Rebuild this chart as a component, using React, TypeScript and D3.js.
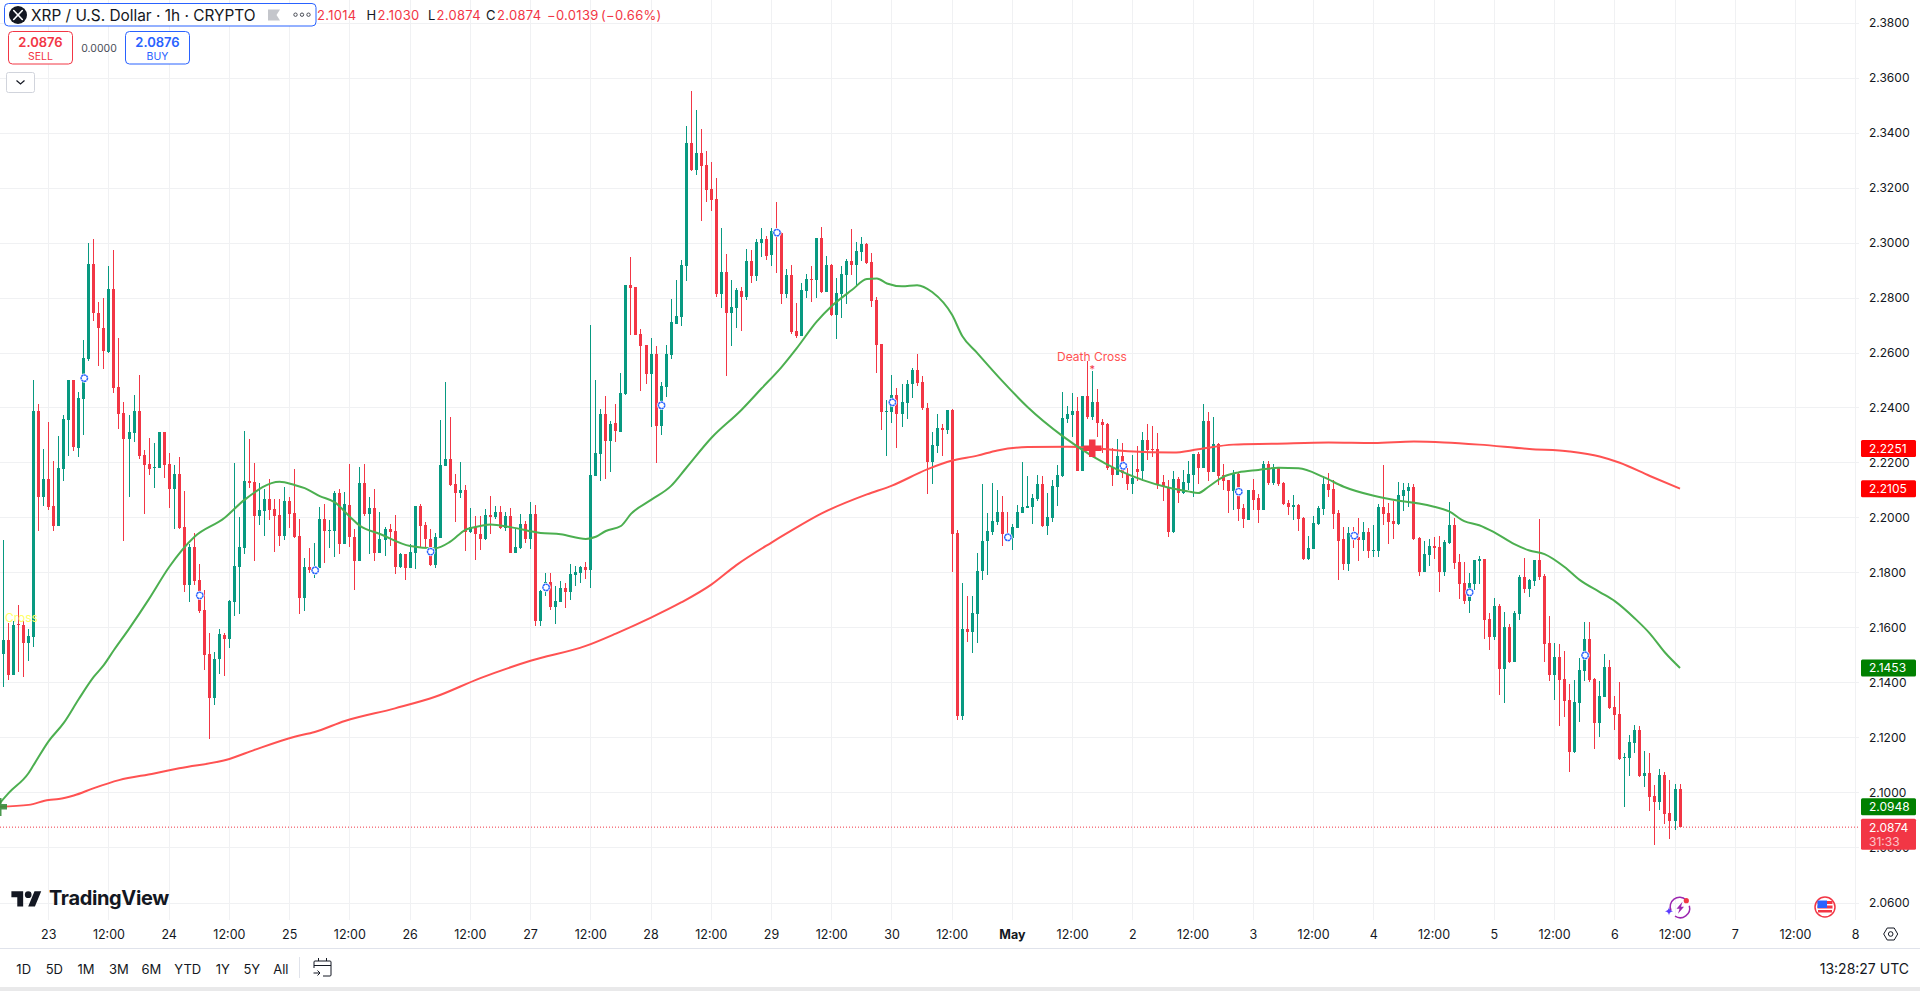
import * as d3 from 'd3';

const WIDTH = 1920;
const HEIGHT = 991;
const FONT = 'Inter, "Noto Sans", sans-serif';

const UP_COLOR = '#089981';
const DOWN_COLOR = '#F23645';
const BLUE = '#2962FF';
const TEXT = '#131722';
const GRID = '#f0f1f3';

// hourly bars, bar 0 is Apr 23 00:00, first visible bar is -9
const FIRST_BAR = -9;

const opens = [
  2.1505,2.1554,2.1427,2.1612,2.1608,2.1544,2.1566,2.2387,2.2076,2.2140,
  2.2042,2.1970,2.2177,2.2355,2.2500,2.2254,2.2431,2.2577,2.2922,2.2745,
  2.2688,2.2603,2.2832,2.2473,2.2379,2.2286,2.2309,2.2387,2.2227,2.2193,
  2.2182,2.2181,2.2311,2.2195,2.2105,2.2158,2.1966,2.1755,2.1894,2.1773,
  2.1664,2.1503,2.1344,2.1485,2.1572,2.1558,2.1694,2.1821,2.1888,2.2133,
  2.2129,2.2006,2.2024,2.2067,2.2031,2.2009,2.1933,2.2060,2.2018,2.1933,
  2.1709,2.1820,2.1810,2.1815,2.1995,2.1952,2.1952,2.2088,2.1905,2.2046,
  2.1928,2.1843,2.2124,2.2013,2.2033,2.1872,2.1918,2.1957,2.1951,2.1820,
  2.1867,2.1817,2.1872,2.2042,2.1973,2.1922,2.1827,2.1927,2.2189,2.2213,
  2.2122,2.2089,2.2100,2.1949,2.1967,2.1940,2.1921,2.2008,2.2001,2.2019,
  2.1962,2.2005,2.1872,2.1890,2.1975,2.1921,2.2012,2.1624,2.1732,2.1764,
  2.1673,2.1694,2.1743,2.1730,2.1792,2.1798,2.1819,2.1808,2.2150,2.2230,
  2.2378,2.2278,2.2343,2.2311,2.2449,2.2845,2.2838,2.2669,2.2627,2.2522,
  2.2596,2.2332,2.2476,2.2590,2.2705,2.2728,2.2915,2.3361,2.3263,2.3325,
  2.3281,2.3194,2.3158,2.2812,2.2892,2.2743,2.2761,2.2823,2.2801,2.2932,
  2.2878,2.2998,2.3012,2.2954,2.3041,2.3036,2.2812,2.2881,2.2678,2.2659,
  2.2823,2.2867,2.2863,2.3016,2.2819,2.2918,2.2736,2.2812,2.2881,2.2932,
  2.2918,2.2965,2.2994,2.2928,2.2790,2.2630,2.2384,2.2384,2.2447,2.2376,
  2.2417,2.2485,2.2536,2.2492,2.2400,2.2202,2.2261,2.2324,2.2318,2.2390,
  2.1942,2.1278,2.1595,2.1585,2.1650,2.1804,2.1913,2.1949,2.1984,2.2021,
  2.1941,2.1925,2.1962,2.2017,2.2035,2.2039,2.2068,2.2122,2.1970,2.1999,
  2.2111,2.2151,2.2359,2.2373,2.2388,2.2170,2.2442,2.2366,2.2421,2.2348,
  2.2340,2.2184,2.2155,2.2224,2.2159,2.2122,2.2177,2.2170,2.2282,2.2250,
  2.2250,2.2130,2.2111,2.1948,2.2141,2.2090,2.2126,2.2155,2.2231,2.2181,
  2.2351,2.2166,2.2268,2.2155,2.2137,2.2097,2.2159,2.2035,2.1991,2.2100,
  2.2071,2.2028,2.2195,2.2126,2.2181,2.2126,2.2053,2.2039,2.2046,2.1999,
  2.1850,2.1886,2.1977,2.2031,2.2122,2.2104,2.2017,2.1922,2.1831,2.1931,
  2.1928,2.1919,2.1948,2.1879,2.1879,2.2039,2.2017,2.1988,2.1977,2.2079,
  2.2097,2.2111,2.1926,2.1802,2.1864,2.1897,2.1892,2.1802,2.1907,2.1972,
  2.1838,2.1761,2.1697,2.1758,2.1841,2.1848,2.1630,2.1565,2.1678,2.1448,
  2.1601,2.1474,2.1648,2.1783,2.1739,2.1768,2.1845,2.1787,2.1543,2.1427,
  2.1492,2.1412,2.1336,2.1147,2.1325,2.1442,2.1558,2.1412,2.1252,2.1347,
  2.1456,2.1310,2.1285,2.1125,2.1125,2.1179,2.1227,2.1059,2.1070,2.0987,
  2.0965,2.1063,2.0925,2.0896,2.1014,
];

const highs = [
  2.1918,2.1617,2.1624,2.1681,2.1624,2.1596,2.2500,2.2413,2.2249,2.2346,
  2.2206,2.2297,2.2373,2.2500,2.2500,2.2458,2.2646,2.3000,2.3013,2.2785,
  2.2800,2.2915,2.2973,2.2652,2.2419,2.2373,2.2446,2.2518,2.2246,2.2290,
  2.2270,2.2311,2.2311,2.2233,2.2190,2.2220,2.2097,2.1905,2.1945,2.1831,
  2.1737,2.1581,2.1512,2.1594,2.1581,2.1700,2.2197,2.2003,2.2315,2.2286,
  2.2197,2.2124,2.2103,2.2139,2.2067,2.2067,2.2112,2.2073,2.2177,2.1995,
  2.1853,2.1888,2.1906,2.2040,2.2049,2.1991,2.2097,2.2103,2.2092,2.2193,
  2.1960,2.2184,2.2193,2.2073,2.2104,2.2019,2.1967,2.1975,2.2009,2.1870,
  2.1867,2.1904,2.2042,2.2049,2.1984,2.1957,2.1943,2.2355,2.2493,2.2364,
  2.2160,2.2202,2.2118,2.2033,2.2006,2.2005,2.2030,2.2078,2.2041,2.2041,
  2.2021,2.2034,2.1960,2.2011,2.1988,2.2055,2.2047,2.1735,2.1799,2.1799,
  2.1750,2.1768,2.1762,2.1830,2.1823,2.1825,2.1838,2.2699,2.2499,2.2394,
  2.2441,2.2350,2.2412,2.2524,2.2845,2.2948,2.2840,2.2684,2.2627,2.2651,
  2.2623,2.2493,2.2627,2.2794,2.2863,2.2936,2.3424,2.3550,2.3481,2.3412,
  2.3332,2.3292,2.3234,2.3052,2.2958,2.2863,2.2834,2.2838,2.2976,2.2972,
  2.3012,2.3052,2.3023,2.3052,2.3147,2.3040,2.2903,2.2918,2.2779,2.2852,
  2.2885,2.2914,2.3016,2.3056,2.2950,2.2921,2.2870,2.2914,2.2939,2.3048,
  2.3001,2.3019,2.2999,2.2961,2.2801,2.2630,2.2429,2.2518,2.2470,2.2485,
  2.2499,2.2542,2.2594,2.2514,2.2415,2.2312,2.2376,2.2339,2.2390,2.2394,
  2.1954,2.1761,2.1716,2.1713,2.1870,2.2122,2.2016,2.2125,2.2100,2.2079,
  2.2021,2.1975,2.2046,2.2202,2.2151,2.2086,2.2155,2.2151,2.2090,2.2137,
  2.2191,2.2457,2.2406,2.2452,2.2437,2.2442,2.2568,2.2533,2.2467,2.2359,
  2.2343,2.2253,2.2286,2.2271,2.2179,2.2228,2.2260,2.2311,2.2340,2.2333,
  2.2308,2.2155,2.2137,2.2170,2.2148,2.2173,2.2206,2.2231,2.2239,2.2413,
  2.2384,2.2366,2.2270,2.2195,2.2137,2.2173,2.2164,2.2050,2.2100,2.2141,
  2.2086,2.2206,2.2206,2.2195,2.2185,2.2130,2.2064,2.2082,2.2050,2.2002,
  2.1933,2.2004,2.2042,2.2151,2.2161,2.2137,2.2028,2.1967,2.1965,2.1967,
  2.2000,2.1982,2.1961,2.1973,2.2050,2.2191,2.2052,2.2061,2.2130,2.2126,
  2.2126,2.2122,2.1930,2.1915,2.1922,2.1930,2.1932,2.1918,2.2056,2.1998,
  2.1869,2.1838,2.1798,2.1845,2.1859,2.1850,2.1651,2.1707,2.1685,2.1656,
  2.1612,2.1659,2.1790,2.1852,2.1777,2.1845,2.1994,2.1794,2.1641,2.1543,
  2.1539,2.1514,2.1396,2.1408,2.1488,2.1619,2.1619,2.1416,2.1405,2.1503,
  2.1481,2.1350,2.1401,2.1143,2.1208,2.1245,2.1241,2.1150,2.1143,2.1027,
  2.1085,2.1074,2.1045,2.1030,2.1030,
];

const lows = [
  2.1384,2.1408,2.1427,2.1439,2.1421,2.1479,2.1530,2.1952,2.2043,2.2027,
  2.1952,2.1970,2.2134,2.2224,2.2243,2.2221,2.2300,2.2570,2.2715,2.2552,
  2.2540,2.2598,2.2452,2.2322,2.1916,2.2076,2.2276,2.2213,2.2013,2.2155,
  2.2109,2.2180,2.2145,2.2036,2.1960,2.1960,2.1730,2.1694,2.1755,2.1654,
  2.1445,2.1195,2.1318,2.1430,2.1423,2.1525,2.1643,2.1649,2.1867,2.2109,
  2.1843,2.1973,2.1933,2.1991,2.1876,2.1897,2.1918,2.1961,2.1926,2.1649,
  2.1660,2.1800,2.1781,2.1815,2.1833,2.1888,2.1858,2.1867,2.1905,2.1894,
  2.1737,2.1843,2.2006,2.1867,2.1843,2.1870,2.1860,2.1897,2.1795,2.1818,
  2.1773,2.1817,2.1813,2.1894,2.1888,2.1824,2.1817,2.1927,2.2189,2.2116,
  2.1985,2.2072,2.1879,2.1943,2.1846,2.1881,2.1918,2.1939,2.1996,2.1960,
  2.1952,2.1870,2.1872,2.1885,2.1908,2.1885,2.1605,2.1605,2.1715,2.1663,
  2.1612,2.1694,2.1670,2.1699,2.1750,2.1761,2.1778,2.1744,2.2150,2.2132,
  2.2139,2.2166,2.2274,2.2310,2.2445,2.2663,2.2663,2.2460,2.2485,2.2330,
  2.2199,2.2299,2.2439,2.2576,2.2705,2.2697,2.2861,2.3259,2.3245,2.3078,
  2.3147,2.3114,2.2801,2.2761,2.2514,2.2623,2.2688,2.2678,2.2790,2.2852,
  2.2859,2.2947,2.2936,2.2914,2.2888,2.2776,2.2798,2.2667,2.2652,2.2659,
  2.2798,2.2783,2.2798,2.2816,2.2819,2.2732,2.2648,2.2725,2.2776,2.2881,
  2.2839,2.2932,2.2921,2.2765,2.2525,2.2318,2.2224,2.2342,2.2253,2.2330,
  2.2358,2.2436,2.2479,2.2392,2.2085,2.2121,2.2235,2.2224,2.2303,2.1802,
  2.1265,2.1262,2.1549,2.1509,2.1545,2.1773,2.1791,2.1937,2.1973,2.1897,
  2.1920,2.1882,2.1962,2.2017,2.2035,2.1977,2.2060,2.1966,2.1937,2.1984,
  2.2042,2.2148,2.2345,2.2294,2.2170,2.2170,2.2360,2.2355,2.2294,2.2236,
  2.2173,2.2115,2.2155,2.2144,2.2101,2.2086,2.2133,2.2133,2.2210,2.2219,
  2.2104,2.2061,2.1930,2.1944,2.2053,2.2086,2.2100,2.2076,2.2122,2.2181,
  2.2133,2.2166,2.2120,2.2100,2.2017,2.2028,2.1988,2.1962,2.1991,2.2028,
  2.1980,2.2028,2.2119,2.2119,2.2113,2.2046,2.2010,2.1991,2.1951,2.1846,
  2.1846,2.1886,2.1973,2.2010,2.2076,2.1959,2.1773,2.1810,2.1806,2.1888,
  2.1842,2.1879,2.1852,2.1856,2.1858,2.1973,2.1904,2.1922,2.1973,2.2024,
  2.2040,2.1920,2.1788,2.1802,2.1824,2.1848,2.1730,2.1788,2.1903,2.1813,
  2.1703,2.1685,2.1652,2.1736,2.1758,2.1558,2.1518,2.1554,2.1354,2.1325,
  2.1472,2.1474,2.1627,2.1724,2.1712,2.1750,2.1772,2.1474,2.1405,2.1336,
  2.1241,2.1274,2.1074,2.1143,2.1256,2.1405,2.1401,2.1158,2.1201,2.1347,
  2.1305,2.1227,2.1118,2.0947,2.1059,2.1143,2.1056,2.1019,2.0932,2.0808,
  2.0936,2.0885,2.0830,2.0863,2.0874,
];

const closes = [
  2.1554,2.1427,2.1608,2.1609,2.1544,2.1568,2.2387,2.2076,2.2140,2.2040,
  2.1969,2.2179,2.2358,2.2500,2.2255,2.2433,2.2579,2.2922,2.2745,2.2688,
  2.2607,2.2832,2.2472,2.2377,2.2286,2.2310,2.2387,2.2224,2.2191,2.2178,
  2.2183,2.2311,2.2191,2.2105,2.2158,2.1963,2.1755,2.1894,2.1769,2.1660,
  2.1499,2.1344,2.1487,2.1576,2.1558,2.1697,2.1824,2.1892,2.2133,2.2126,
  2.2006,2.2027,2.2067,2.2027,2.2006,2.1933,2.2060,2.2013,2.1928,2.1709,
  2.1820,2.1810,2.1815,2.1995,2.1952,2.1954,2.2088,2.1905,2.2049,2.1928,
  2.1843,2.2124,2.2013,2.2033,2.1872,2.1922,2.1957,2.1947,2.1820,2.1867,
  2.1817,2.1875,2.2042,2.1969,2.1921,2.1827,2.1928,2.2191,2.2213,2.2118,
  2.2089,2.2100,2.1949,2.1967,2.1940,2.1921,2.2008,2.2001,2.2019,2.1962,
  2.2005,2.1872,2.1892,2.1975,2.1921,2.2011,2.1624,2.1732,2.1764,2.1673,
  2.1696,2.1743,2.1730,2.1794,2.1801,2.1819,2.1808,2.2154,2.2233,2.2378,
  2.2278,2.2339,2.2314,2.2451,2.2845,2.2834,2.2665,2.2623,2.2522,2.2596,
  2.2332,2.2478,2.2594,2.2710,2.2732,2.2918,2.3361,2.3263,2.3325,2.3278,
  2.3190,2.3154,2.2812,2.2892,2.2743,2.2765,2.2827,2.2801,2.2932,2.2878,
  2.3001,2.3012,2.2950,2.3041,2.3032,2.2812,2.2881,2.2674,2.2659,2.2827,
  2.2867,2.2863,2.3016,2.2819,2.2918,2.2736,2.2816,2.2885,2.2932,2.2918,
  2.2968,2.2994,2.2925,2.2787,2.2627,2.2384,2.2386,2.2447,2.2376,2.2419,
  2.2487,2.2536,2.2490,2.2398,2.2202,2.2263,2.2324,2.2318,2.2390,2.1939,
  2.1278,2.1595,2.1585,2.1652,2.1806,2.1915,2.1951,2.1988,2.2021,2.1941,
  2.1930,2.1966,2.2021,2.2039,2.2042,2.2071,2.2122,2.1970,2.2002,2.2115,
  2.2155,2.2362,2.2377,2.2388,2.2170,2.2442,2.2366,2.2421,2.2344,2.2337,
  2.2180,2.2155,2.2224,2.2161,2.2122,2.2144,2.2166,2.2282,2.2246,2.2246,
  2.2122,2.2111,2.1948,2.2141,2.2090,2.2128,2.2159,2.2231,2.2181,2.2351,
  2.2166,2.2268,2.2151,2.2133,2.2097,2.2159,2.2031,2.1995,2.2100,2.2064,
  2.2028,2.2195,2.2126,2.2179,2.2122,2.2050,2.2039,2.2046,2.1995,2.1850,
  2.1890,2.1981,2.2035,2.2122,2.2100,2.2013,2.1915,2.1831,2.1943,2.1919,
  2.1919,2.1948,2.1879,2.1882,2.2039,2.2013,2.1984,2.1977,2.2082,2.2100,
  2.2111,2.1922,2.1802,2.1868,2.1897,2.1890,2.1802,2.1910,2.1972,2.1835,
  2.1758,2.1696,2.1761,2.1845,2.1848,2.1627,2.1565,2.1678,2.1448,2.1601,
  2.1474,2.1651,2.1783,2.1739,2.1772,2.1845,2.1783,2.1539,2.1427,2.1492,
  2.1408,2.1332,2.1147,2.1328,2.1445,2.1558,2.1408,2.1252,2.1350,2.1456,
  2.1307,2.1281,2.1121,2.1128,2.1183,2.1227,2.1059,2.1070,2.0983,2.0965,
  2.1063,2.0921,2.0896,2.1012,2.0874,
];

// moving averages at the bars where they bend
const fastBars = [-10,-8,-4,-3,0,3,6,9,11,13,16,20,24,29,35,39,46,49,51,54,57,60,62,66,72,77,80,83,86,88,92,98,102,107,109,111,114,116,120,124,127,132,138,142,146,149,153,156,160,163,165,167,170,173,176,180,182,185,190,195,202,208,213,218,223,227,229,231,234,237,241,245,249,254,258,264,269,273,276,279,282,285,288,292,295,298,302,305,309,312,316,319,322,325];
const fastValues = [2.0956,2.0998,2.1071,2.1100,2.1187,2.1253,2.1340,2.1421,2.1464,2.1518,2.1595,2.1704,2.1820,2.1929,2.1998,2.2064,2.2130,2.2118,2.2107,2.2078,2.2055,2.2003,2.1970,2.1940,2.1896,2.1888,2.1912,2.1955,2.1969,2.1975,2.1965,2.1944,2.1939,2.1922,2.1930,2.1951,2.1969,2.2013,2.2064,2.2115,2.2180,2.2289,2.2391,2.2469,2.2547,2.2615,2.2712,2.2769,2.2827,2.2867,2.2869,2.2851,2.2841,2.2845,2.2820,2.2736,2.2660,2.2598,2.2496,2.2402,2.2296,2.2222,2.2173,2.2136,2.2109,2.2095,2.2089,2.2111,2.2148,2.2164,2.2173,2.2181,2.2179,2.2147,2.2112,2.2079,2.2061,2.2051,2.2039,2.2022,2.1987,2.1972,2.1946,2.1903,2.1880,2.1867,2.1820,2.1773,2.1729,2.1696,2.1633,2.1578,2.1509,2.1453];

const slowBars = [-10,-4,0,2,5,9,14,21,26,36,41,49,53,59,69,77,86,96,107,113,120,126,132,137,144,147,154,163,168,175,180,185,189,195,203,209,215,224,229,236,244,255,264,272,278,285,295,303,309,313,319,325];
const slowValues = [2.0948,2.0955,2.0973,2.0976,2.0989,2.1016,2.1045,2.1069,2.1088,2.1122,2.1155,2.1203,2.1220,2.1260,2.1306,2.1348,2.1416,2.1479,2.1533,2.1578,2.1636,2.1691,2.1756,2.1827,2.1909,2.1942,2.2015,2.2084,2.2116,2.2175,2.2207,2.2225,2.2244,2.2256,2.2257,2.2251,2.2241,2.2236,2.2248,2.2265,2.2268,2.2273,2.2271,2.2276,2.2273,2.2265,2.2249,2.2240,2.2222,2.2199,2.2151,2.2105];

// the little blue rings on the candles
const markerBars = [7,30,53,76,99,122,145,168,191,214,237,260,283,306];
const markerValues = [2.2507,2.1717,2.1808,2.1876,2.1746,2.2408,2.3036,2.2419,2.1928,2.2188,2.2094,2.1934,2.1728,2.1499];

const priceTicks = [2.38,2.36,2.34,2.32,2.30,2.28,2.26,2.24,2.22,2.20,2.18,2.16,2.14,2.12,2.10,2.08,2.06];
const timeLabels = ['23','12:00','24','12:00','25','12:00','26','12:00','27','12:00','28','12:00','29','12:00','30','12:00','May','12:00','2','12:00','3','12:00','4','12:00','5','12:00','6','12:00','7','12:00','8'];
const rangeLabels = ['1D','5D','1M','3M','6M','YTD','1Y','5Y','All'];
const rangeCenters = [23.7,54.3,86,118.8,151.4,187.8,222.9,251.8,280.8];

const CHART_RIGHT = 1859;
const CHART_BOTTOM = 920;

const xScale = d3.scaleLinear().domain([0, 360]).range([48.7, 1855.7]);
const yScale = d3.scaleLinear().domain([2.38, 2.06]).range([22.5, 902.5]);
const fmt = d3.format('.4f');

const linePath = (bars: number[], values: number[]) =>
  d3.line<number>()
    .x((b) => xScale(b))
    .y((_, i) => yScale(values[i]))
    .curve(d3.curveMonotoneX)(bars) ?? '';

function PriceTag({ value, fill, sub }: { value: number; fill: string; sub?: string }) {
  const y = yScale(value);
  return (
    <g>
      <rect x={1861} y={y - 8.5} width={55} height={sub ? 31 : 17} rx={1.5} fill={fill} />
      <text x={1869} y={y} dominantBaseline="central" fontSize={12} fill="#fff">{fmt(value)}</text>
      {sub && <text x={1869} y={y + 14.5} dominantBaseline="central" fontSize={12} fill="#fff" opacity={0.7}>{sub}</text>}
    </g>
  );
}

export default function App() {
  const lastClose = closes[closes.length - 1];
  return (
    <svg
      width={WIDTH}
      height={HEIGHT}
      viewBox={`0 0 ${WIDTH} ${HEIGHT}`}
      style={{ position: 'fixed', left: 0, top: 0, display: 'block', background: '#fff', fontFamily: FONT }}
    >
      <defs>
        <clipPath id="pane"><rect x={0} y={0} width={CHART_RIGHT} height={CHART_BOTTOM} /></clipPath>
      </defs>

      {/* grid */}
      <g shapeRendering="crispEdges" stroke={GRID} strokeWidth={1}>
        {priceTicks.map((p) => (
          <line key={p} x1={0} x2={CHART_RIGHT} y1={Math.round(yScale(p)) + 0.5} y2={Math.round(yScale(p)) + 0.5} />
        ))}
        {timeLabels.map((_, k) => {
          const x = Math.round(xScale(k * 12) - 0.5) + 0.5;
          return <line key={k} x1={x} x2={x} y1={0} y2={CHART_BOTTOM} />;
        })}
      </g>

      <g clipPath="url(#pane)">
        {/* candles */}
        <g shapeRendering="crispEdges">
          {closes.map((c, k) => {
            const o = opens[k];
            const x0 = Math.round(xScale(FIRST_BAR + k) - 0.5);
            const color = c >= o ? UP_COLOR : DOWN_COLOR;
            const top = yScale(Math.max(o, c));
            const bottom = yScale(Math.min(o, c));
            return (
              <g key={k} fill={color}>
                <rect x={x0} y={yScale(highs[k])} width={1} height={yScale(lows[k]) - yScale(highs[k])} />
                <rect x={x0 - 1} y={top} width={3} height={Math.max(bottom - top, 1)} />
              </g>
            );
          })}
        </g>

        <path d={linePath(slowBars, slowValues)} fill="none" stroke="#FF5252" strokeWidth={2} />
        <path d={linePath(fastBars, fastValues)} fill="none" stroke="#4CAF50" strokeWidth={2} />

        {markerBars.map((b, k) => {
          const cx = xScale(b) + 0.5;
          const cy = yScale(markerValues[k]);
          return (
            <g key={b}>
              <circle cx={cx} cy={cy} r={4.6} fill="#fff" />
              <circle cx={cx} cy={cy} r={3.2} fill="#fff" stroke={BLUE} strokeWidth={1.5} strokeDasharray="2.4 0.4" />
            </g>
          );
        })}

        {/* crosses */}
        <g fill={DOWN_COLOR}>
          <rect x={1083.5} y={445.5} width={18} height={5.5} />
          <rect x={1089} y={439.5} width={6.5} height={17.5} />
        </g>
        <g fill="#388E3C" opacity={0.9}>
          <rect x={-11} y={804} width={18} height={5.5} />
          <rect x={-5} y={798} width={6.5} height={18} />
        </g>
        <text x={1092} y={356.5} textAnchor="middle" dominantBaseline="central" fontSize={12} fill="#FF5252">Death Cross</text>
        <text x={1092.3} y={369} textAnchor="middle" dominantBaseline="central" fontSize={11} fill={DOWN_COLOR}>*</text>
        <text x={5} y={617.5} dominantBaseline="central" fontSize={12} fill="#FFFF66">Cross</text>

        {/* last price */}
        <line x1={0} x2={CHART_RIGHT} y1={yScale(lastClose)} y2={yScale(lastClose)} stroke={DOWN_COLOR} strokeWidth={1} strokeDasharray="1 2" />
      </g>

      {/* price axis */}
      {priceTicks.map((p) => (
        <text key={p} x={1869} y={yScale(p)} dominantBaseline="central" fontSize={12} fill={TEXT}>{fmt(p)}</text>
      ))}
      <PriceTag value={2.2251} fill="#FF0000" />
      <PriceTag value={2.2105} fill="#FF0000" />
      <PriceTag value={2.1453} fill="#008000" />
      <PriceTag value={2.0948} fill="#008000" />
      <PriceTag value={lastClose} fill={DOWN_COLOR} sub="31:33" />

      {/* time axis */}
      {timeLabels.map((t, k) => (
        <text
          key={k}
          x={xScale(k * 12)}
          y={934}
          textAnchor="middle"
          dominantBaseline="central"
          fontSize={12.5}
          fontWeight={t === 'May' ? 700 : 400}
          fill={TEXT}
        >
          {t}
        </text>
      ))}
      <g transform="translate(1890.7,934)" fill="none" stroke={TEXT} strokeWidth={1}>
        <path d="M-7 0 L-3.5 -6 L3.5 -6 L7 0 L3.5 6 L-3.5 6 Z" />
        <circle r={2.3} />
      </g>

      {/* bottom bar */}
      <line x1={0} x2={WIDTH} y1={948.5} y2={948.5} stroke="#e0e3eb" strokeWidth={1} />
      {rangeLabels.map((t, k) => (
        <text key={t} x={rangeCenters[k]} y={969} textAnchor="middle" dominantBaseline="central" fontSize={13} fill={TEXT}>{t}</text>
      ))}
      <line x1={299.5} x2={299.5} y1={957} y2={978} stroke="#e0e3eb" strokeWidth={1} />
      <g fill="none" stroke={TEXT} strokeWidth={1}>
        <path d="M314 968 V962 Q314 961 315 961 H330 Q331 961 331 962 V975 Q331 976 330 976 H323" />
        <path d="M314 965.5 H331 M318.5 958 V961 M326.5 958 V961" />
        <path d="M313.5 973 H320 M317.5 970.5 L320 973 L317.5 975.5" />
      </g>
      <text x={1909} y={968} textAnchor="end" dominantBaseline="central" fontSize={14} fill={TEXT}>13:28:27 UTC</text>
      <rect x={0} y={987} width={WIDTH} height={4} fill="#e9e9ea" />

      {/* TradingView mark */}
      <g transform="translate(11.4,888) scale(0.84)" fill="#131722">
        <path d="M14 22H7V11H0V4h14v18zM28 22h-8l7.5-18h8L28 22z" />
        <circle cx={20} cy={8} r={4} />
      </g>
      <text x={49} y={905} fontSize={20} fontWeight={700} fill="#131722" letterSpacing={-0.35}>TradingView</text>

      {/* lightning badge */}
      <g transform="translate(1680,907.7)">
        <path d="M-9 3 A9.5 9.5 0 0 1 6 -8" fill="none" stroke="#9C27B0" strokeWidth={1.5} />
        <path d="M9.3 -2 A9.5 9.5 0 0 1 -5 8.5" fill="none" stroke="#9C27B0" strokeWidth={1.5} />
        <path d="M2.5 -6 L-3.5 1 H-0.5 L-2 6 L4 -1 H1 Z" fill="#9C27B0" />
        <path d="M-11 -0.5 Q-10.5 3 -7 3.5 Q-10.5 4 -11 7.5 Q-11.5 4 -15 3.5 Q-11.5 3 -11 -0.5 Z" fill="#5B3CFF" />
        <circle cx={6.3} cy={-7} r={2.6} fill={DOWN_COLOR} />
      </g>

      {/* events flag */}
      <g transform="translate(1825,907)">
        <circle r={10} fill="#fff" stroke={DOWN_COLOR} strokeWidth={1.5} />
        <rect x={-7.5} y={-6} width={15} height={3} fill={DOWN_COLOR} />
        <rect x={-7.5} y={-1.5} width={15} height={3} fill={DOWN_COLOR} />
        <rect x={-7} y={3} width={14} height={2.5} fill={DOWN_COLOR} />
        <rect x={-7.5} y={-6.5} width={9.5} height={7.5} fill="#2962FF" />
      </g>

      {/* symbol header */}
      <rect x={4.5} y={3.5} width={311.5} height={22.5} rx={4} fill="#fff" stroke={BLUE} strokeWidth={1} />
      <circle cx={18} cy={15} r={9} fill="#131722" />
      <path d="M13.7 10.5 L22.3 19.5 M22.3 10.5 L13.7 19.5" stroke="#fff" strokeWidth={1.6} strokeLinecap="round" />
      <text x={31} y={15} dominantBaseline="central" fontSize={15.4} fill={TEXT}>XRP / U.S. Dollar · 1h · CRYPTO</text>
      <path d="M268 9.5 H280 L276.5 15 L280 20.5 H268 Z" fill="#c4c6cb" />
      <g fill="none" stroke="#4a4d57" strokeWidth={1}>
        <circle cx={295.5} cy={14.7} r={1.7} />
        <circle cx={302} cy={14.7} r={1.7} />
        <circle cx={308.5} cy={14.7} r={1.7} />
      </g>

      {/* OHLC */}
      <g fontSize={13} letterSpacing={0.3}>
        <text x={317} y={15} dominantBaseline="central" fill={DOWN_COLOR}>2.1014</text>
        <text x={366.5} y={15} dominantBaseline="central" fill={TEXT}>H</text>
        <text x={377.5} y={15} dominantBaseline="central" fill={DOWN_COLOR}>2.1030</text>
        <text x={428} y={15} dominantBaseline="central" fill={TEXT}>L</text>
        <text x={436.5} y={15} dominantBaseline="central" fill={DOWN_COLOR}>2.0874</text>
        <text x={486} y={15} dominantBaseline="central" fill={TEXT}>C</text>
        <text x={497} y={15} dominantBaseline="central" fill={DOWN_COLOR}>2.0874</text>
        <text x={547} y={15} dominantBaseline="central" fill={DOWN_COLOR}>−0.0139</text>
        <text x={601} y={15} dominantBaseline="central" fill={DOWN_COLOR}>(−0.66%)</text>
      </g>

      {/* trade buttons */}
      <rect x={8.5} y={31.5} width={64} height={32.5} rx={4} fill="#fff" stroke={DOWN_COLOR} />
      <text x={40.5} y={41.5} textAnchor="middle" dominantBaseline="central" fontSize={13} fontWeight={600} fill={DOWN_COLOR}>2.0876</text>
      <text x={40.5} y={56} textAnchor="middle" dominantBaseline="central" fontSize={10.5} fill={DOWN_COLOR}>SELL</text>
      <text x={99} y={48} textAnchor="middle" dominantBaseline="central" fontSize={10.5} fill="#4a4d57">0.0000</text>
      <rect x={125.5} y={31.5} width={64} height={32.5} rx={4} fill="#fff" stroke={BLUE} />
      <text x={157.5} y={41.5} textAnchor="middle" dominantBaseline="central" fontSize={13} fontWeight={600} fill={BLUE}>2.0876</text>
      <text x={157.5} y={56} textAnchor="middle" dominantBaseline="central" fontSize={10.5} fill={BLUE}>BUY</text>
      <rect x={6.5} y={72.5} width={28} height={20} rx={2} fill="#fff" stroke="#d1d4dc" />
      <path d="M16.5 80.5 L20.5 84 L24.5 80.5" fill="none" stroke={TEXT} strokeWidth={1.2} />
    </svg>
  );
}
